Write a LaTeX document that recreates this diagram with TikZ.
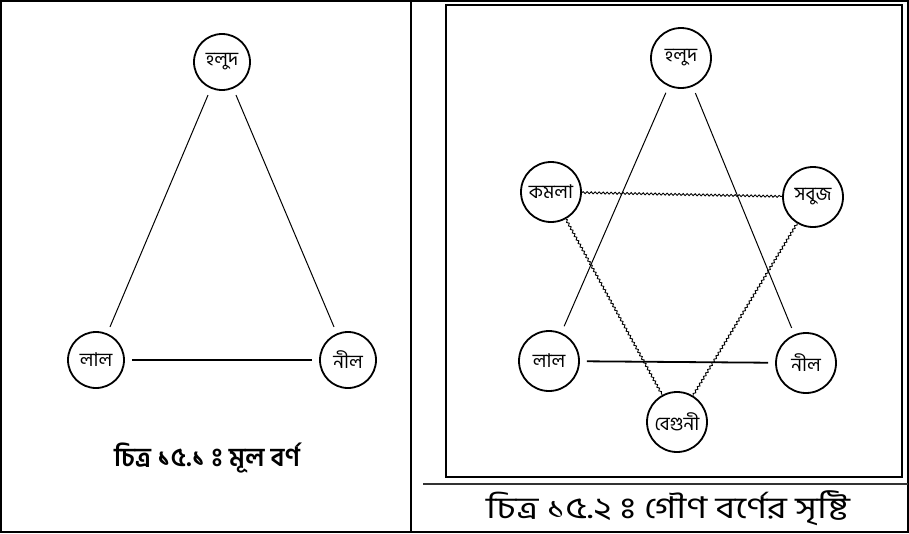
\documentclass[tikz,border=0pt]{standalone}
\usepackage{fontspec}
\setmainfont[Script=Bengali]{Hind Siliguri}
\newfontfamily\plainbn[RawFeature={script=latn}]{Hind Siliguri}
\newcommand\visarga{{\plainbn ঃ}}
\usetikzlibrary{decorations.pathmorphing}

\begin{document}
\begin{tikzpicture}[
  x=1pt, y=-1pt,
  hue/.style={draw, circle, line width=1.8pt, minimum size=#1, inner sep=0pt,
              font=\fontsize{19}{21}\selectfont},
  hue/.default=56pt,
  link/.style={line width=1pt, shorten >=7pt, shorten <=7pt},
  bar/.style={line width=1.8pt, shorten >=7pt, shorten <=7pt},
  wave/.style={line width=0.9pt, decorate,
               decoration={snake, amplitude=1pt, segment length=4pt}},
  caption/.style={font=\fontsize{26}{30}\selectfont\bfseries}
]
  \useasboundingbox (0,0) rectangle (909,533);
  % frames
  \draw[line width=1.6pt] (0.8,0.8) rectangle (908.2,532.2);
  \draw[line width=1.6pt] (411,0) -- (411,533);
  \draw[line width=1.2pt] (446,5) rectangle (902,477);
  \draw[line width=1.6pt, black!80] (423,484) -- (908,484);

  % primary colours
  \node[hue] (yellowL) at (222,62) {হলুদ};
  \node[hue] (redL) at (96,360) {লাল};
  \node[hue] (blueL) at (348,360) {নীল};
  \draw[link] (yellowL) -- (redL);
  \draw[link] (yellowL) -- (blueL);
  \draw[bar] (redL) -- (blueL);
  \node[caption] (capL) at (207,458) {চিত্র ১৫.১ \visarga{} মূল বর্ণ};

  % secondary colours
  \node[hue=60pt] (yellowR) at (681,58) {হলুদ};
  \node[hue=60pt] (orangeR) at (551,192) {কমলা};
  \node[hue=60pt] (greenR) at (813,197) {সবুজ};
  \node[hue=60pt] (redR) at (549,361) {লাল};
  \node[hue=60pt] (blueR) at (806,363) {নীল};
  \node[hue=60pt] (violetR) at (677,422) {বেগুনী};
  \draw[link] (yellowR) -- (redR);
  \draw[link] (yellowR) -- (blueR);
  \draw[bar] (redR) -- (blueR);
  \draw[wave] (orangeR) -- (greenR);
  \draw[wave] (orangeR) -- (violetR);
  \draw[wave] (greenR) -- (violetR);
  \node[caption, font=\fontsize{30}{34}\selectfont] (capR) at (668,508)
    {\scalebox{1.25}[1]{চিত্র ১৫.২ \visarga{} গৌণ বর্ণের সৃষ্টি}};
\end{tikzpicture}
\end{document}
